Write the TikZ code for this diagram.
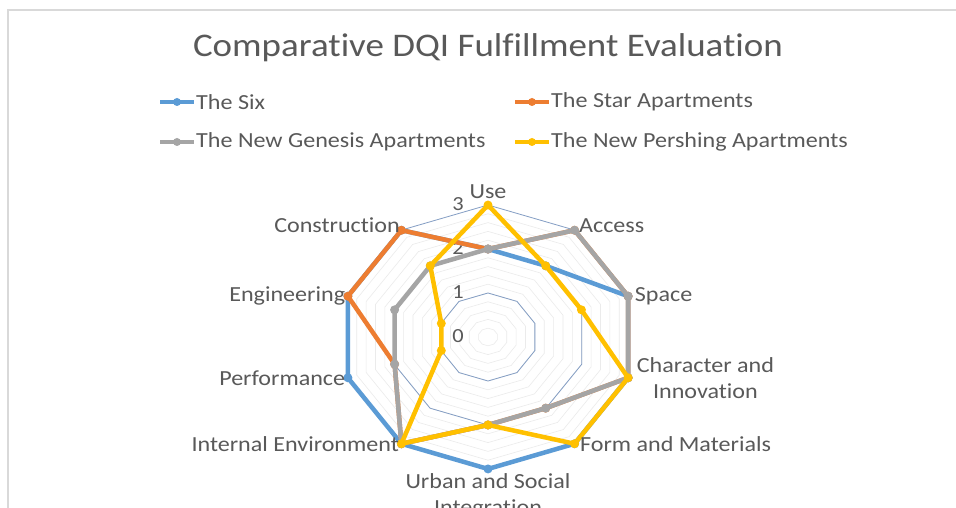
\documentclass[tikz,border=0pt]{standalone}
\usepackage{fontspec}
\setmainfont{Carlito}[FakeStretch=1.12,Ligatures=NoCommon]
\usetikzlibrary{positioning}
\definecolor{sixblue}{RGB}{91,155,213}
\definecolor{starorange}{RGB}{237,125,49}
\definecolor{genesisgray}{RGB}{165,165,165}
\definecolor{pershinggold}{RGB}{255,192,0}
\definecolor{gridblue}{RGB}{132,158,196}
\definecolor{labelgray}{RGB}{89,89,89}
\definecolor{framegray}{RGB}{217,217,217}

\begin{document}
\begin{tikzpicture}[x=1pt,y=1pt,
    series/.style={line width=4.5pt,line join=round},
    dot/.style={circle,fill=#1,inner sep=0pt,minimum size=9pt},
    lbl/.style={text=labelgray,font=\fontsize{21.5}{26}\selectfont,inner sep=1pt},
    ticklbl/.style={text=labelgray,font=\fontsize{20}{22}\selectfont,inner sep=0pt}]
    \useasboundingbox (0,0) rectangle (956,508);
    \fill[white] (0,0) rectangle (956,508);
    \draw[framegray,line width=1.2pt] (8,-5) -- (8,498) -- (970,498);

    % Chart title
    \node[text=labelgray,font=\fontsize{33}{38}\selectfont] (title) at (488,460) {Comparative DQI Fulfillment Evaluation};

    % Legend entries
    \foreach \lx/\ly/\col/\name/\id in {160/406/sixblue/The Six/six, 515/406/starorange/The Star Apartments/star,
        160/366/genesisgray/The New Genesis Apartments/genesis, 515/366/pershinggold/The New Pershing Apartments/pershing} {
        \coordinate (leg-\id-a) at (\lx,\ly);
        \coordinate (leg-\id-b) at (\lx+34,\ly);
        \draw[\col,line width=4.5pt] (leg-\id-a) -- (leg-\id-b);
        \node[dot=\col,minimum size=8pt] (leg-\id-dot) at (\lx+17,\ly) {};
        \node[lbl,anchor=west] (leg-\id) at (\lx+35,\ly) {\name};
    }

    \begin{scope}[shift={(488,171)},xscale=49.3,yscale=44]
        % Minor and major grid rings
        \foreach \r in {0.2,0.4,...,2.9} {
            \draw[black!8,line width=0.6pt] (90:\r) \foreach \k in {1,...,9} { -- ({90-36*\k}:\r) } -- cycle;
        }
        \foreach \r in {1,2,3} {
            \draw[gridblue,line width=0.8pt] (90:\r) \foreach \k in {1,...,9} { -- ({90-36*\k}:\r) } -- cycle;
        }
        % Axis ends
        \foreach \k in {0,...,9} {
            \coordinate (ax\k) at ({90-36*\k}:3);
        }
        % Value labels
        \foreach \v in {0,...,3} {
            \node[ticklbl] (tick\v) at (-0.61,\v+0.03) {\v};
        }
        % Series: Use, Access, Space, Character, Form, Urban, Internal, Performance, Engineering, Construction
        \foreach \id/\col/\data in {six/sixblue/{2,2,3,3,3,3,3,3,3,3},
            star/starorange/{2,3,3,3,2,2,3,2,3,3},
            genesis/genesisgray/{2,3,3,3,2,2,3,2,2,2},
            pershing/pershinggold/{3,2,2,3,3,2,3,1,1,2}} {
            \foreach \v [count=\k from 0] in \data {
                \coordinate (\id\k) at ({90-36*\k}:\v);
            }
            \draw[series,\col] (\id0) \foreach \k in {1,...,9} { -- (\id\k) } -- cycle;
            \foreach \k in {0,...,9} {
                \node[dot=\col] (\id-m\k) at (\id\k) {};
            }
        }
    \end{scope}

    % Category labels
    \node[lbl,above=5pt of ax0] (use) {Use};
    \node[lbl,right=3pt of ax1,yshift=5pt] (access) {Access};
    \node[lbl,right=5pt of ax2] (space) {Space};
    \node[lbl,right=7pt of ax3,align=center] (character) {Character and\\Innovation};
    \node[lbl,right=4pt of ax4] (form) {Form and Materials};
    \node[lbl,below=3pt of ax5,align=center] (urban) {Urban and Social\\Integration};
    \node[lbl,left=1pt of ax6] (internal) {Internal Environment};
    \node[lbl,left=1pt of ax7] (performance) {Performance};
    \node[lbl,left=1pt of ax8] (engineering) {Engineering};
    \node[lbl,left=0pt of ax9,yshift=5pt] (construction) {Construction};
\end{tikzpicture}
\end{document}
